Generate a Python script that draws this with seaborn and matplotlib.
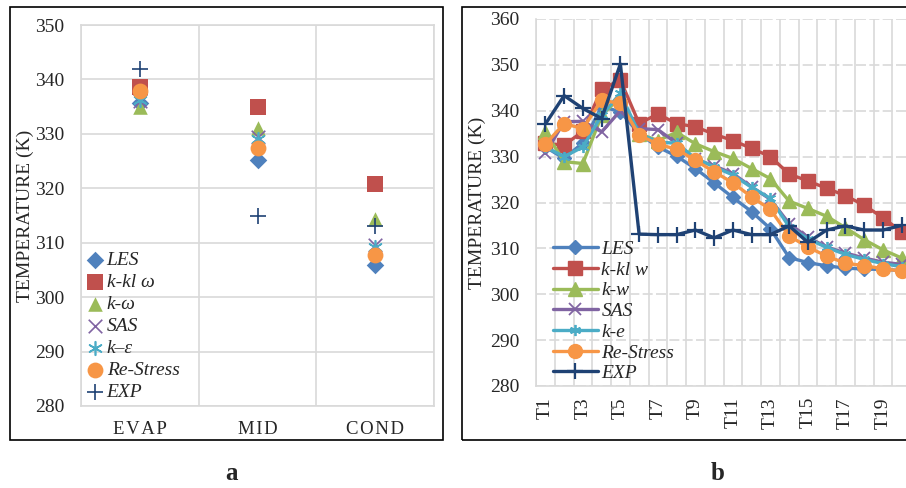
import numpy as np
import pandas as pd
import matplotlib
matplotlib.use("Agg")
import matplotlib.pyplot as plt
from matplotlib.patches import Rectangle
import seaborn as sns

# ── Data ─────────────────────────────────────────────────────
locations = ["EVAP", "MID", "COND"]
a_les = [335.6, 325.2, 305.9]
a_kkl = [338.6, 334.9, 320.7]
a_kw = [335.0, 331.0, 314.4]
a_sas = [336.0, 329.5, 309.6]
a_ke = [336.2, 329.0, 309.2]
a_rs = [337.9, 327.4, 307.7]
a_exp = [341.9, 314.9, 313.1]

points = ["T%d" % i for i in range(1, 21)]
b_les = [332.1, 329.6, 333.0, 340.9, 339.8, 335.0, 332.1, 330.1, 327.4, 324.3,
         321.1, 318.0, 314.3, 308.0, 306.9, 306.2, 305.7, 305.5, 305.4, 305.2]
b_kkl = [332.9, 332.5, 335.5, 344.7, 346.7, 337.2, 339.3, 337.2, 336.5, 334.9,
         333.5, 331.8, 330.0, 326.2, 324.7, 323.1, 321.5, 319.4, 316.7, 313.6]
b_kw = [335.4, 328.9, 328.5, 339.0, 343.0, 335.0, 333.5, 335.3, 332.8, 331.1,
        329.6, 327.4, 325.2, 320.3, 318.7, 317.0, 314.5, 311.9, 309.7, 307.9]
b_sas = [330.7, 337.6, 337.7, 335.4, 340.0, 336.1, 335.9, 332.9, 329.4, 328.0,
         326.3, 323.4, 320.7, 315.4, 312.4, 310.3, 309.0, 307.9, 307.0, 306.5]
b_ke = [332.1, 330.0, 332.1, 339.0, 343.8, 335.0, 333.2, 332.9, 329.6, 327.8,
        326.0, 323.3, 320.9, 314.7, 312.1, 310.2, 308.7, 307.6, 306.7, 306.0]
b_rs = [332.7, 337.2, 336.1, 342.3, 341.6, 334.7, 332.7, 331.6, 329.2, 326.7,
        324.3, 321.2, 318.5, 312.7, 310.3, 308.3, 306.8, 306.2, 305.6, 305.0]
b_exp = [337.1, 343.3, 340.5, 338.3, 350.2, 313.1, 313.0, 313.0, 314.0, 312.3,
         314.0, 313.0, 313.0, 314.9, 311.3, 314.0, 314.9, 314.0, 314.0, 315.0]

# ── Style ────────────────────────────────────────────────────
sns.set_style("white")
plt.rcParams["font.family"] = ["Liberation Serif", "DejaVu Serif"]

C_LES = "#4F81BD"
C_KKL = "#C0504D"
C_KW = "#9BBB59"
C_SAS = "#8064A2"
C_KE = "#4BACC6"
C_RS = "#F79646"
C_EXP = "#1F4274"
GRID = "#D9D9D9"
ASTER = (6, 2, 0)

fig = plt.figure(figsize=(9.06, 4.88), dpi=100)

# panel frames
fig.patches.append(Rectangle((10 / 906, 1 - 440 / 488), 433 / 906, 433 / 488,
                             transform=fig.transFigure, fill=False,
                             edgecolor="black", lw=1.2))
fig.patches.append(Rectangle((462 / 906, 1 - 440 / 488), 460 / 906, 433 / 488,
                             transform=fig.transFigure, fill=False,
                             edgecolor="black", lw=1.2))

# ── Panel a ──────────────────────────────────────────────────
ax1 = fig.add_axes([81 / 906, 1 - 406 / 488, 353 / 906, 381 / 488])
a_series = [
    ("LES", a_les, C_LES, "D", 80, 0),
    ("k-kl ω", a_kkl, C_KKL, "s", 125, 0),
    ("k-ω", a_kw, C_KW, "^", 110, 0),
    ("SAS", a_sas, C_SAS, "x", 95, 1.2),
    ("k–ε", a_ke, C_KE, ASTER, 95, 1.2),
    ("Re-Stress", a_rs, C_RS, "o", 130, 0),
    ("EXP", a_exp, C_EXP, "+", 140, 1.2),
]
xa = np.arange(len(locations))
for name, vals, col, mk, sz, lw in a_series:
    sns.scatterplot(x=xa, y=vals, ax=ax1, color=col, marker=mk, s=sz,
                    linewidth=lw, edgecolor=col if lw == 0 else None,
                    label=name, zorder=3)

ax1.set_xlim(-0.5, 2.5)
ax1.set_ylim(280, 350)
ax1.set_yticks(range(280, 351, 10))
ax1.set_xticks(xa)
# letter-spaced category names (hair spaces)
ax1.set_xticklabels(["\u200a".join(c) for c in locations])
ax1.set_xticks(np.arange(-0.5, 2.6, 1), minor=True)
ax1.grid(True, which="minor", axis="x", color=GRID, lw=1.2)
ax1.grid(True, which="major", axis="y", color=GRID, lw=1.2)
ax1.tick_params(which="both", length=0)
ax1.tick_params(axis="y", labelsize=14, pad=12)
ax1.tick_params(axis="x", labelsize=13.5, pad=11)
for s in ax1.spines.values():
    s.set_color(GRID)
    s.set_linewidth(1.2)
ax1.set_ylabel("TEMPERATURE (K)", fontsize=14, labelpad=1)
ax1.set_xlabel("")
ax1.legend(loc="upper left", bbox_to_anchor=(0.015, 0.405), frameon=False,
           prop={"style": "italic", "size": 14}, handlelength=0.9,
           handletextpad=0.15, labelspacing=0.22, borderpad=0,
           borderaxespad=0)

# ── Panel b ──────────────────────────────────────────────────
ax2 = fig.add_axes([536 / 906, 1 - 386 / 488, 375 / 906, 367 / 488])
b_series = [
    ("LES", b_les, C_LES, "D", 7.5, 1),
    ("k-kl w", b_kkl, C_KKL, "s", 9.5, 1),
    ("k-w", b_kw, C_KW, "^", 9.5, 1),
    ("SAS", b_sas, C_SAS, "x", 8, 1.3),
    ("k-e", b_ke, C_KE, ASTER, 8, 1.3),
    ("Re-Stress", b_rs, C_RS, "o", 10, 1),
    ("EXP", b_exp, C_EXP, "+", 11, 1.6),
]
xb = np.arange(len(points))
for name, vals, col, mk, ms, mew in b_series:
    sns.lineplot(x=xb, y=vals, ax=ax2, color=col, lw=2.4, marker=mk, ms=ms,
                 mew=mew, mec=col, mfc=col, label=name, sort=False,
                 zorder=3)

ax2.set_xlim(-0.5, 19.5)
ax2.set_ylim(280, 360)
ax2.set_yticks(range(280, 361, 10))
ax2.set_xticks(xb[::2])
ax2.set_xticklabels(points[::2], rotation=90)
ax2.set_xticks(np.arange(-0.5, 19.6, 1), minor=True)
ax2.grid(True, which="minor", axis="x", color=GRID, lw=1.2)
ax2.grid(True, which="major", axis="y", color=GRID, lw=1.2,
         linestyle=(0, (6, 2)))
ax2.tick_params(which="both", length=0)
ax2.tick_params(axis="y", labelsize=14, pad=12)
ax2.tick_params(axis="x", labelsize=14, pad=8)
for k, s in ax2.spines.items():
    s.set_color(GRID)
    s.set_linewidth(1.2)
ax2.spines["top"].set_visible(False)
ax2.spines["right"].set_visible(False)
ax2.set_ylabel("TEMPERATURE (K)", fontsize=14, labelpad=3)
ax2.set_xlabel("")
ax2.legend(loc="upper left", bbox_to_anchor=(0.045, 0.397), frameon=False,
           prop={"style": "italic", "size": 14}, handlelength=2.3,
           handletextpad=0.2, labelspacing=0.16, borderpad=0,
           borderaxespad=0)

# panel letters
fig.text(232 / 906, 1 - 474 / 488, "a", fontsize=18, fontweight="bold",
         ha="center", va="center")
fig.text(718 / 906, 1 - 474 / 488, "b", fontsize=18, fontweight="bold",
         ha="center", va="center")

fig.savefig("out.png", dpi=100)
